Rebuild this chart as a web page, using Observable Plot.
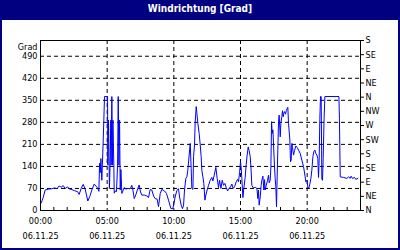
<!DOCTYPE html>
<html>
<head>
<meta charset="utf-8">
<script src="https://cdn.jsdelivr.net/npm/d3@7"></script>
<script src="https://cdn.jsdelivr.net/npm/@observablehq/plot@0.6"></script>
<style>
  html, body { margin: 0; padding: 0; background: white; }
  #wrap { position: relative; width: 400px; height: 250px; box-sizing: border-box;
          border: 2px solid #000080; border-top: 0; overflow: hidden; background: white; }
  #title { height: 20px; margin: 0 -2px; background: #000080; color: white; text-align: center;
           font: bold 10px "DejaVu Sans Condensed", "DejaVu Sans", sans-serif; line-height: 17px; }
</style>
</head>
<body>
<div id="wrap"><div id="title">Windrichtung [Grad]</div><div id="chart"></div></div>
<script>
const titleText = "Windrichtung [Grad]";
const yUnit = "Grad";
const leftTicks = [0, 70, 140, 210, 280, 350, 420, 490];
const compassTicks = [0, 45, 90, 135, 180, 225, 270, 315, 360, 405, 450, 495, 540];
const compassLabels = ["N", "NE", "E", "SE", "S", "SW", "W", "NW", "N", "NE", "E", "SE", "S"];
const xTickHours = [0, 5, 10, 15, 20];
const xTickTimes = ["00:00", "05:00", "10:00", "15:00", "20:00"];
const xTickDates = ["06.11.25", "06.11.25", "06.11.25", "06.11.25", "06.11.25"];
const hourTicks = [1,2,3,4,6,7,8,9,11,12,13,14,16,17,18,19,21,22,23];
const gridHours = [5, 10, 15, 20];
const gridValues = [70, 140, 210, 280, 350, 420, 490];

const hours = [
  0.05,0.2,0.35,0.6,0.85,1.05,1.23,1.4,1.55,1.7,1.85,2.03,2.15,2.3,2.55,2.78,2.9,3.05,3.2,3.35,3.55,3.7,3.85,4.03,4.15,4.28,4.38,
  4.43,4.48,4.53,4.6,4.68,4.75,4.8,5.03,5.05,5.1,5.17,5.22,5.27,5.3,5.35,5.4,5.43,5.5,5.53,5.6,5.7,5.78,5.83,5.88,5.93,5.98,6.03,6.1,
  6.28,6.4,6.55,6.73,6.85,6.93,7.03,7.15,7.3,7.4,7.5,7.6,7.8,7.98,8.1,8.23,8.35,8.48,8.6,8.75,8.85,8.98,9.1,9.3,9.45,9.6,9.78,9.93,10.0,10.1,10.23,
  10.35,10.43,10.55,10.65,10.73,10.8,10.9,10.98,11.05,11.15,11.23,11.3,11.35,11.43,11.48,11.55,11.6,11.68,11.73,11.8,11.9,11.98,12.05,12.1,12.18,12.25,12.33,12.4,12.5,12.6,12.73,12.85,12.93,13.03,13.15,13.25,13.35,13.43,13.53,13.63,13.73,13.83,13.93,14.03,14.13,14.23,14.35,14.45,14.55,14.68,14.78,14.85,14.93,15.0,15.05,15.1,15.18,15.25,15.35,15.43,15.5,15.58,15.65,15.73,15.78,15.85,15.95,
  16.05,16.15,16.23,16.3,16.35,16.4,16.48,16.55,16.6,16.68,16.75,16.8,16.85,16.93,17.03,17.1,17.15,17.23,17.28,17.33,17.38,17.43,17.48,17.55,17.6,17.65,17.7,17.75,17.8,17.85,17.9,17.98,18.03,18.1,18.15,18.2,18.25,18.3,18.38,18.43,18.5,18.55,18.6,18.7,18.75,18.8,18.85,18.9,18.98,19.05,19.15,19.25,19.35,19.48,19.6,19.73,19.85,19.9,19.98,20.05,20.13,20.2,20.28,20.35,20.43,20.5,20.58,20.65,20.73,20.8,20.85,20.9,20.95,21.0,21.05,21.1,21.15,21.2,21.27,21.33,22.38,22.42,22.48,22.73,22.98,23.1,23.23,23.3,23.4,23.55,23.65,23.8
];
const values = [
  24,41,65,68,69,72,69,78,74,79,70,75,69,67,63,60,51,70,83,68,30,45,65,84,78,72,61,
  150,120,165,96,192,287,362,362,144,287,70,144,287,144,362,144,287,144,55,62,60,144,362,144,287,65,130,54,
  73,68,70,69,80,65,38,50,70,81,59,49,49,46,41,67,65,46,38,36,12,54,67,62,54,33,6,6,22,43,64,
  69,43,17,6,17,65,102,107,128,176,213,134,70,67,171,208,279,330,309,277,245,208,171,128,107,86,33,49,65,80,96,105,94,112,137,102,73,96,70,96,80,86,73,62,70,73,84,70,75,91,99,91,120,155,137,102,41,70,105,147,176,202,190,171,140,80,72,
  73,73,70,38,65,17,43,80,96,109,65,98,65,80,96,112,88,96,139,282,245,256,208,139,102,75,12,107,192,282,303,234,277,298,317,298,309,314,306,317,324,328,277,224,155,160,213,200,176,190,205,200,192,181,160,139,107,91,96,75,72,84,102,128,171,187,192,181,176,165,105,160,290,362,362,100,96,165,293,362,362,293,107,105,102,107,102,109,102,105,99,102
];

const data = hours.map((h, i) => ({h, v: values[i]}));
const pxPerUnit = 170 / 540;

const chart = Plot.plot({
  width: 396,
  height: 228,
  marginLeft: 38,
  marginRight: 38,
  marginTop: 20,
  marginBottom: 38,
  style: {fontFamily: '"DejaVu Sans Condensed", "DejaVu Sans", sans-serif', fontSize: "9px", color: "black", background: "white", overflow: "visible"},
  x: {domain: [0, 24], axis: null},
  y: {domain: [0, 540]},
  marks: [
    Plot.ruleY(gridValues, {stroke: "black", strokeDasharray: "4,3"}),
    Plot.ruleX(gridHours, {stroke: "black", strokeDasharray: "4,3"}),
    Plot.ruleX(hourTicks, {y1: 0, y2: 3 / pxPerUnit, stroke: "black"}),
    Plot.line(data, {x: "h", y: "v", stroke: "#0000ff", strokeWidth: 1}),
    Plot.frame({stroke: "black"}),
    Plot.axisY({anchor: "left", ticks: leftTicks, tickSize: 0, tickPadding: 3, label: null}),
    Plot.axisY({anchor: "right", ticks: compassTicks, tickSize: 3, tickPadding: 2, label: null,
      tickFormat: d => compassLabels[compassTicks.indexOf(d)]}),
    Plot.text([yUnit], {frameAnchor: "top-left", dx: -3, dy: 3, textAnchor: "end"}),
    Plot.text(xTickHours, {x: d => d, text: (d, i) => xTickTimes[i], frameAnchor: "bottom", dy: 13}),
    Plot.text(xTickHours, {x: d => d, text: (d, i) => xTickDates[i], frameAnchor: "bottom", dy: 28})
  ]
});
chart.style.display = "block";
document.getElementById("chart").appendChild(chart);
document.getElementById("title").textContent = titleText;
</script>
</body>
</html>
